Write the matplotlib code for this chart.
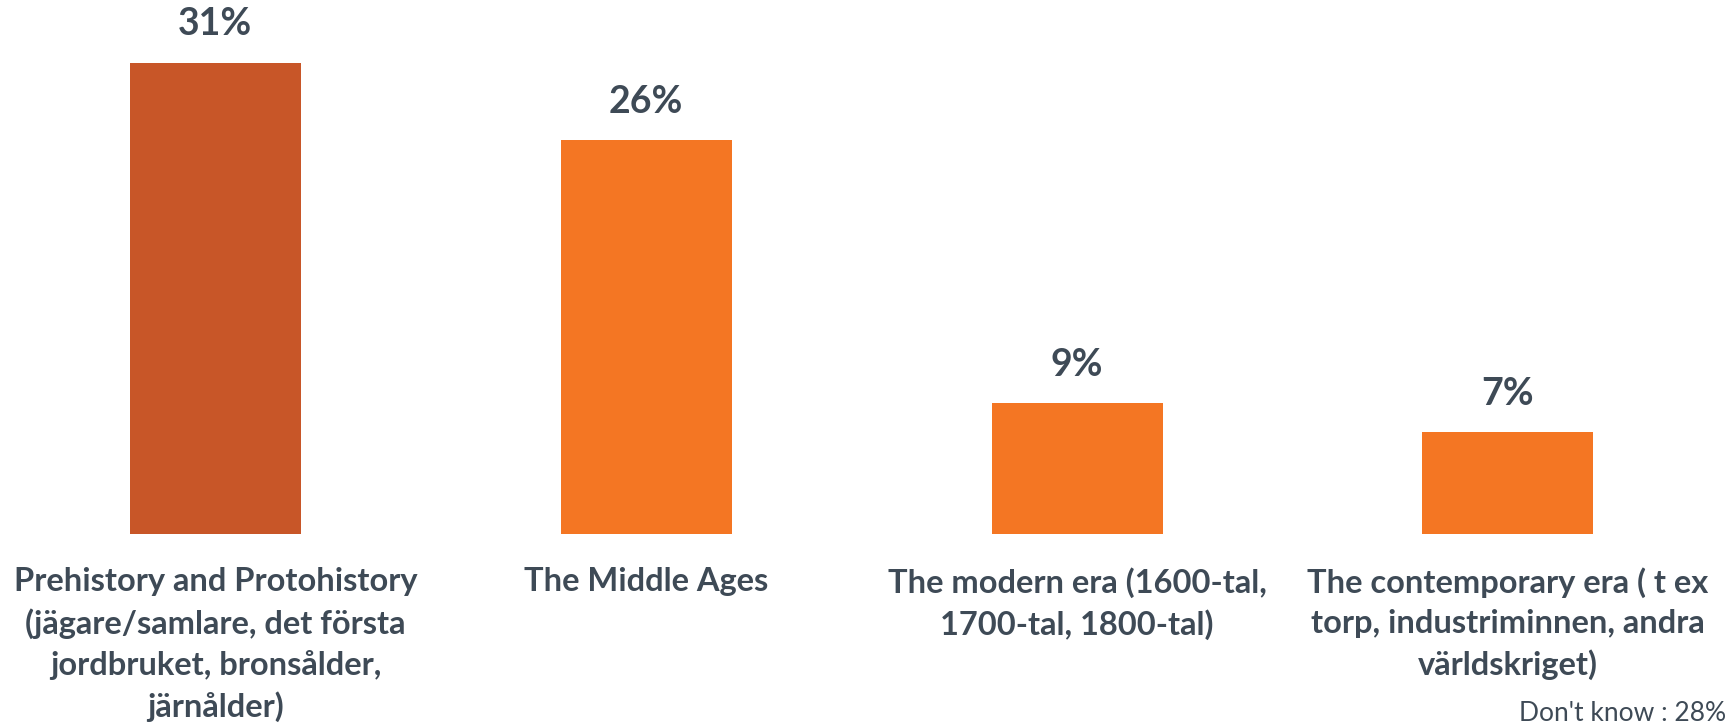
import matplotlib.pyplot as plt

# data
categories = ["Prehistory and Protohistory\n(jägare/samlare, det första\njordbruket, bronsålder,\njärnålder)",
              "The Middle Ages",
              "The modern era (1600-tal,\n1700-tal, 1800-tal)",
              "The contemporary era ( t ex\ntorp, industriminnen, andra\nvärldskriget)"]
values = [31.0, 25.9, 8.6, 6.7]
colors = ["#C85628", "#F47623", "#F47623", "#F47623"]
dont_know = 28

text_color = "#3E4A56"
plt.rcParams['font.family'] = ['Lato', 'DejaVu Sans']

fig = plt.figure(figsize=(17.29, 7.28), dpi=100)
ax = fig.add_axes([0, 0.2665, 0.9967, 0.7308])

x = range(len(values))
ax.bar(x, values, width=0.397, color=colors)
ax.set_xlim(-0.5, 3.5)
ax.set_ylim(0, 35)

for i, v in enumerate(values):
    ax.text(i, v + 1.4, "{:.0f}%".format(v), ha='center', va='bottom',
            fontsize=27, fontweight='bold', color=text_color)

for i, c in enumerate(categories):
    ax.annotate(c, xy=(i, 0), xycoords='data', xytext=(0, -24), textcoords='offset points',
                ha='center', va='top', fontsize=23.5, fontweight='bold', color=text_color,
                linespacing=1.45, annotation_clip=False)

ax.axis('off')

fig.text(0.9985, 0.003, "Don't know : {}%".format(dont_know), ha='right', va='bottom',
         fontsize=19, color=text_color)

fig.savefig("out.png", dpi=100)
